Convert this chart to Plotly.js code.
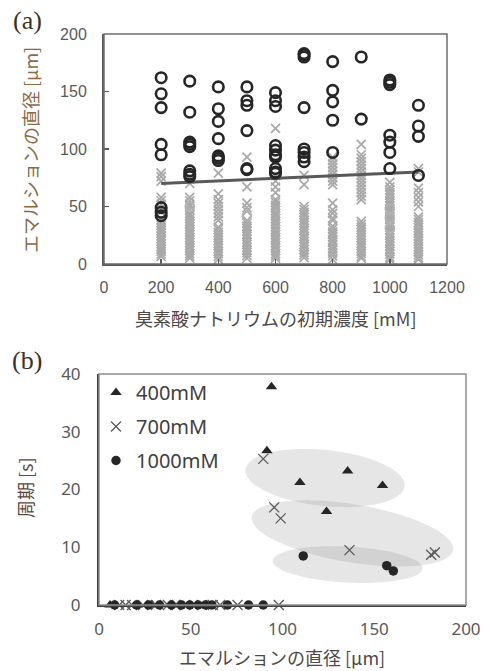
<!DOCTYPE html>
<html><head><meta charset="utf-8">
<script src="https://cdn.plot.ly/plotly-3.0.1.min.js"></script>
<style>html,body{margin:0;padding:0;background:#fff}#chart{width:483px;height:671px}</style>
</head><body><div id="chart"></div>
<script>
// ---------- Panel (a) data ----------
const concentrations = [200, 300, 400, 500, 600, 700, 800, 900, 1000, 1100];
// large (dark circle) emulsion diameters [μm] per concentration
const largeDiam = [
  [162, 148, 136, 104, 95, 49, 45, 42],
  [159, 132, 106, 104, 102, 81, 78, 76],
  [154, 135, 124, 109, 94, 92, 90],
  [154, 142, 138, 116, 83, 82],
  [149, 142, 137, 103, 99, 95, 93, 83, 80, 79],
  [183, 182, 180, 136, 100, 97, 93, 89],
  [176, 151, 141, 125, 97],
  [180, 126],
  [160, 158, 156, 112, 106, 97, 83],
  [138, 120, 111, 77]
];
// small (grey cross) emulsion diameters [μm] per concentration
const smallDiam = [
  [79, 76, 72, 58, 55, 52, 48, 45, 38.5, 36, 33.5, 31, 29, 27, 24.5, 22, 20, 17.5, 15, 13, 11, 8.5, 6.5],
  [74, 70, 58, 55, 52, 50, 47, 44, 42, 39.5, 37, 35, 32.5, 30, 28, 25.5, 23, 21, 18.5, 16, 14, 11.5, 9, 7, 5],
  [79, 61, 56, 53, 50, 47, 44, 41, 38, 32, 30, 27.5, 25, 23, 20.5, 18, 16, 13.5, 11, 9, 6.5, 4],
  [93, 67, 53, 49, 46, 38, 35.5, 33, 31, 28.5, 26, 24, 21.5, 19, 17, 14.5, 12, 10, 7.5, 5],
  [118, 77, 72, 67, 62, 56, 53.5, 51, 49, 46.5, 44, 42, 39.5, 37, 35, 32.5, 30, 28, 25.5, 23, 21, 18.5, 16, 14, 11.5, 9, 7, 5],
  [77, 69, 50, 47.5, 45, 43, 40.5, 38, 36, 33.5, 31, 29, 26.5, 24, 22, 19.5, 17, 15, 12.5, 10, 8, 5.5],
  [93, 90, 87, 84, 81, 78, 75, 72, 69, 53, 47, 44, 40, 38, 33, 30.5, 28, 26, 23.5, 21, 19, 16.5, 14, 12, 9.5, 7, 4],
  [104, 95, 92, 89, 86, 83, 80, 77, 74, 71, 68, 65, 62, 59, 56, 37, 34.5, 32, 30, 27.5, 25, 23, 20.5, 18, 16, 13.5, 11, 9, 6.5, 5],
  [71, 67, 64.5, 62, 60, 57.5, 55, 53, 50.5, 48, 46, 43.5, 41, 39, 36.5, 34, 32, 29.5, 27, 25, 22.5, 20, 18, 15.5, 13, 11, 8.5, 6, 4],
  [83, 80, 66, 62, 58, 54, 50, 41, 38.5, 36, 34, 31.5, 29, 27, 24.5, 22, 20, 17.5, 15, 13, 10.5, 8, 5.5, 4]
];
const faintConc = [300, 500, 1000, 1000, 1000];
const faintDiam = [50, 42, 48, 40, 31];
const trendConc = [200, 1100];
const trendDiam = [70, 80];

// ---------- Panel (b) data ----------
const seriesNames = ['400mM', '700mM', '1000mM'];
const diam400 = [6, 21, 29, 40, 94, 91.5, 109.5, 135.5, 154.5, 124];
const period400 = [0, 0, 0, 0, 37.8, 26.7, 21.2, 23.2, 20.7, 16.2];
const diam700 = [11, 14.5, 18, 24, 31, 37.5, 41.5, 47, 56, 62, 66, 75.5, 98, 89.5, 95.5, 99, 136.5, 181, 183];
const period700 = [0, 0, 0, 0, 0, 0, 0, 0, 0, 0, 0, 0, 0, 25.3, 16.9, 15, 9.5, 8.7, 9.1];
const diam1000 = [8.5, 20.5, 27, 33, 39.5, 45, 49.5, 54, 58, 61.5, 70, 81.5, 89.5, 111.3, 156.8, 160.4];
const period1000 = [0, 0, 0, 0, 0, 0, 0, 0, 0, 0, 0, 0, 0, 8.5, 6.8, 5.9];

// grouping ellipses (decoration): centre in data units, half-axes in px, tilt in deg
const groupEllipses = [
  {cx: 123.2, cy: 22.0, a: 80, b: 28, tilt: 6},
  {cx: 138.1, cy: 12.4, a: 102, b: 29, tilt: 9.4},
  {cx: 135.5, cy: 7.0, a: 75, b: 18, tilt: 3}
];

// ---------- build ----------
const W = 483, H = 671;
const domAx = [104 / W, 447 / W], domAy = [1 - 264 / H, 1 - 34 / H];
const domBx = [99 / W, 466 / W], domBy = [1 - 605 / H, 1 - 374 / H];
const rangeBx = [0, 200], rangeBy = [0, 40];

function flatten(xs, nested) {
  const x = [], y = [];
  nested.forEach((arr, i) => arr.forEach(v => { x.push(xs[i]); y.push(v); }));
  return {x, y};
}
const small = flatten(concentrations, smallDiam);
const large = flatten(concentrations, largeDiam);

const traces = [
  {x: small.x, y: small.y, type: 'scatter', mode: 'markers', xaxis: 'x', yaxis: 'y', showlegend: false,
   marker: {symbol: 'x-thin', size: 9, line: {color: '#a8a8a8', width: 1.7}}, hoverinfo: 'skip'},
  {x: faintConc, y: faintDiam, type: 'scatter', mode: 'markers', xaxis: 'x', yaxis: 'y', showlegend: false,
   marker: {symbol: 'circle-open', size: 9, line: {color: '#b4b4b4', width: 1.6}, color: '#b4b4b4'}},
  {x: trendConc, y: trendDiam, type: 'scatter', mode: 'lines', xaxis: 'x', yaxis: 'y', showlegend: false,
   line: {color: '#595959', width: 3}},
  {x: large.x, y: large.y, type: 'scatter', mode: 'markers', xaxis: 'x', yaxis: 'y', showlegend: false,
   marker: {symbol: 'circle-open', size: 10.5, color: '#262626', line: {color: '#262626', width: 2.6}}},
  {x: diam400, y: period400, name: seriesNames[0], legendgroup: 'g1', type: 'scatter', mode: 'markers',
   xaxis: 'x2', yaxis: 'y2', cliponaxis: false,
   marker: {symbol: 'triangle-up', size: 10, color: '#262626'}},
  {x: diam700, y: period700, name: seriesNames[1], legendgroup: 'g2', type: 'scatter', mode: 'markers',
   xaxis: 'x2', yaxis: 'y2', cliponaxis: false,
   marker: {symbol: 'x-thin', size: 10, color: '#595959', line: {color: '#595959', width: 1.3}}},
  {x: diam1000, y: period1000, name: seriesNames[2], legendgroup: 'g3', type: 'scatter', mode: 'markers',
   xaxis: 'x2', yaxis: 'y2', cliponaxis: false,
   marker: {symbol: 'circle', size: 9.5, color: '#262626'}}
];

// ellipse paths in data coordinates of panel (b)
const kx = W * (domBx[1] - domBx[0]) / (rangeBx[1] - rangeBx[0]);
const ky = H * (domBy[1] - domBy[0]) / (rangeBy[1] - rangeBy[0]);
const shapes = groupEllipses.map(e => {
  const th = e.tilt * Math.PI / 180;
  let p = '';
  for (let k = 0; k <= 72; k++) {
    const t = k / 72 * 2 * Math.PI;
    const dx = e.a * Math.cos(t) * Math.cos(th) - e.b * Math.sin(t) * Math.sin(th);
    const dy = e.a * Math.cos(t) * Math.sin(th) + e.b * Math.sin(t) * Math.cos(th);
    p += (k === 0 ? 'M' : 'L') + (e.cx + dx / kx).toFixed(3) + ',' + (e.cy - dy / ky).toFixed(3);
  }
  return {type: 'path', xref: 'x2', yref: 'y2', path: p + 'Z', layer: 'below',
          fillcolor: 'rgba(128,128,128,0.2)', line: {width: 0}};
});
shapes.push({type: 'rect', xref: 'x domain', yref: 'y domain', x0: 0, x1: 1, y0: 0, y1: 1,
             line: {color: '#6e6e6e', width: 1.5}, layer: 'above'});
shapes.push({type: 'rect', xref: 'x2 domain', yref: 'y2 domain', x0: 0, x1: 1, y0: 0, y1: 1,
             line: {color: '#8c8c8c', width: 1.5}, layer: 'above'});

const tickFontA = {family: 'Liberation Sans, Arial, sans-serif', size: 16, color: '#595959'};
const tickFontB = {family: 'Noto Sans, sans-serif', size: 17, color: '#595959'};
const cjk = 'Noto Sans CJK JP, Noto Sans, sans-serif';

const annotations = [
  {text: '(a)', x: 27 / W, y: 1 - 21 / H, font: {family: 'Liberation Serif, serif', size: 26, color: '#3d3028'}},
  {text: '(b)', x: 27 / W, y: 1 - 360 / H, font: {family: 'Liberation Serif, serif', size: 26, color: '#3d3028'}},
  {text: 'エマルションの直径 [μm]', x: 30 / W, y: 1 - 150 / H, textangle: -90, font: {family: cjk, size: 18, color: '#8b6b45'}},
  {text: '臭素酸ナトリウムの初期濃度 [mM]', x: 275 / W, y: 1 - 318 / H, font: {family: cjk, size: 18, color: '#4d4848'}},
  {text: '周期 [s]', x: 25 / W, y: 1 - 488 / H, textangle: -90, font: {family: cjk, size: 18, color: '#5a4a3e'}},
  {text: 'エマルションの直径 [μm]', x: 282 / W, y: 1 - 657 / H, font: {family: cjk, size: 18, color: '#4d4848'}}
].map(a => Object.assign({xref: 'paper', yref: 'paper', showarrow: false, xanchor: 'center', yanchor: 'middle'}, a));

const layout = {
  width: W, height: H, margin: {l: 0, r: 0, t: 0, b: 0},
  paper_bgcolor: '#fff', plot_bgcolor: '#fff',
  showlegend: true,
  xaxis: {domain: domAx, range: [0, 1200], tickvals: [0, 200, 400, 600, 800, 1000, 1200],
          ticks: 'inside', ticklen: 5, tickcolor: '#595959', tickwidth: 1.5,
          showline: true, linecolor: '#595959', linewidth: 2, showgrid: false, zeroline: false,
          tickfont: tickFontA, ticklabelstandoff: 8, anchor: 'y', fixedrange: true},
  yaxis: {domain: domAy, range: [0, 200], tickvals: [0, 50, 100, 150, 200],
          ticks: 'inside', ticklen: 5, tickcolor: '#595959', tickwidth: 1.5,
          showline: true, linecolor: '#595959', linewidth: 2, showgrid: false, zeroline: false,
          tickfont: tickFontA, ticklabelstandoff: 12, anchor: 'x', fixedrange: true},
  xaxis2: {domain: domBx, range: rangeBx, tickvals: [0, 50, 100, 150, 200], ticks: '',
           showline: true, linecolor: '#404040', linewidth: 2, showgrid: false, zeroline: false,
           tickfont: tickFontB, ticklabelstandoff: 8, anchor: 'y2', fixedrange: true},
  yaxis2: {domain: domBy, range: rangeBy, tickvals: [0, 10, 20, 30, 40], ticks: '',
           showline: true, linecolor: '#404040', linewidth: 2, showgrid: false, zeroline: false,
           tickfont: tickFontB, ticklabelstandoff: 13, anchor: 'x2', fixedrange: true},
  legend: {x: 96 / W, y: 1 - 373 / H, xanchor: 'left', yanchor: 'top', bgcolor: 'rgba(0,0,0,0)',
           font: {family: 'Noto Sans, sans-serif', size: 20, color: '#404040'},
           traceorder: 'grouped', tracegroupgap: 5},
  shapes: shapes,
  annotations: annotations
};

Plotly.newPlot('chart', traces, layout, {staticPlot: true, displayModeBar: false});
</script>
</body></html>
